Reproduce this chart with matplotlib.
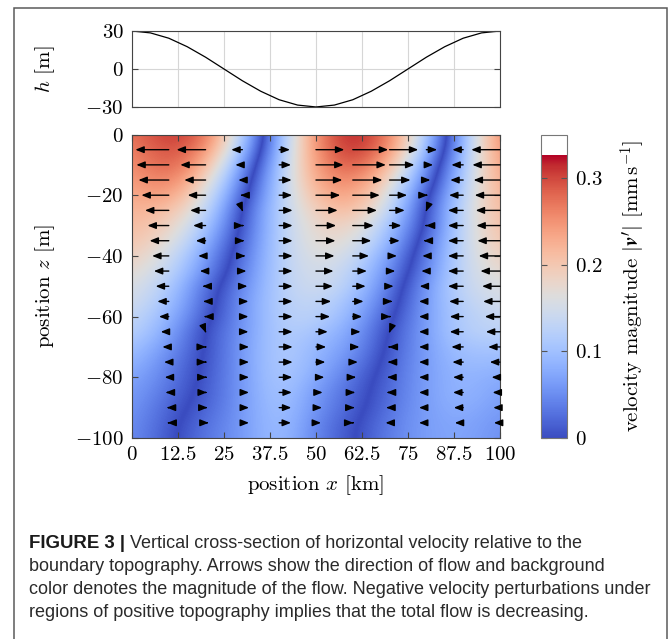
import numpy as np
import matplotlib
matplotlib.use("Agg")
import matplotlib.pyplot as plt
from matplotlib.colors import Normalize, ListedColormap
from matplotlib.cm import ScalarMappable
from matplotlib.patches import Rectangle

plt.rcParams['font.family'] = 'serif'
plt.rcParams['font.serif'] = ['cmr10']
plt.rcParams['mathtext.fontset'] = 'cm'
plt.rcParams['axes.unicode_minus'] = False

# topography h(x) [m]
x_topo = [0, 5, 10, 15, 20, 25, 30, 35, 40, 45, 50,
          55, 60, 65, 70, 75, 80, 85, 90, 95, 100]
h_topo = [30, 28.5, 24.3, 17.6, 9.3, 0, -9.3, -17.6, -24.3, -28.5, -30,
          -28.5, -24.3, -17.6, -9.3, 0, 9.3, 17.6, 24.3, 28.5, 30]

# horizontal velocity perturbation u [mm/s] on the arrow grid
x_grid = [0, 10, 20, 30, 40, 50, 60, 70, 80, 90, 100]
z_grid = [0, -5, -10, -15, -20, -25, -30, -35, -40, -45, -50,
          -55, -60, -65, -70, -75, -80, -85, -90, -95, -100]
u_grid = [
    [-0.270, -0.315, -0.285, -0.125, 0.090, 0.262, 0.330, 0.272, 0.115, -0.090, -0.270],
    [-0.260, -0.303, -0.263, -0.101, 0.098, 0.257, 0.321, 0.260, 0.098, -0.098, -0.260],
    [-0.250, -0.294, -0.229, -0.064, 0.107, 0.250, 0.300, 0.225, 0.061, -0.107, -0.250],
    [-0.239, -0.275, -0.193, -0.037, 0.113, 0.239, 0.269, 0.190, 0.037, -0.117, -0.239],
    [-0.229, -0.248, -0.162, -0.018, 0.117, 0.220, 0.245, 0.159, 0.012, -0.128, -0.229],
    [-0.220, -0.216, -0.140, 0.004, 0.122, 0.197, 0.220, 0.138, -0.004, -0.138, -0.220],
    [-0.214, -0.193, -0.113, 0.009, 0.122, 0.183, 0.190, 0.107, -0.005, -0.138, -0.214],
    [-0.205, -0.174, -0.089, 0.018, 0.122, 0.177, 0.168, 0.092, -0.025, -0.138, -0.205],
    [-0.193, -0.151, -0.067, 0.028, 0.122, 0.168, 0.147, 0.067, -0.037, -0.138, -0.193],
    [-0.177, -0.135, -0.052, 0.037, 0.122, 0.159, 0.128, 0.052, -0.046, -0.138, -0.177],
    [-0.162, -0.119, -0.028, 0.046, 0.122, 0.153, 0.117, 0.037, -0.061, -0.138, -0.162],
    [-0.153, -0.104, -0.021, 0.055, 0.122, 0.138, 0.098, 0.025, -0.067, -0.128, -0.153],
    [-0.138, -0.089, -0.012, 0.055, 0.122, 0.128, 0.085, 0.009, -0.067, -0.122, -0.138],
    [-0.128, -0.073, 0.004, 0.055, 0.122, 0.107, 0.071, -0.004, -0.067, -0.122, -0.128],
    [-0.107, -0.058, 0.003, 0.060, 0.122, 0.092, 0.061, -0.009, -0.067, -0.107, -0.107],
    [-0.092, -0.043, 0.005, 0.060, 0.122, 0.085, 0.046, -0.016, -0.067, -0.098, -0.092],
    [-0.076, -0.037, 0.009, 0.060, 0.119, 0.076, 0.030, -0.021, -0.067, -0.092, -0.076],
    [-0.067, -0.028, 0.012, 0.060, 0.115, 0.061, 0.021, -0.025, -0.067, -0.092, -0.067],
    [-0.061, -0.018, 0.018, 0.060, 0.110, 0.055, 0.016, -0.030, -0.067, -0.085, -0.061],
    [-0.055, -0.012, 0.028, 0.060, 0.107, 0.046, 0.006, -0.037, -0.067, -0.076, -0.055],
    [-0.052, -0.008, 0.033, 0.060, 0.105, 0.042, 0.003, -0.040, -0.067, -0.074, -0.052],
]

# arrows near the zero crossings that also have a visible vertical part
tilt_x = [30, 80, 20, 70]
tilt_z = [-25, -25, -65, -65]
tilt_w = [-0.012, -0.012, -0.012, -0.012]

cbar_ticks = [0, 0.1, 0.2, 0.3]
x_ticks = [0, 12.5, 25, 37.5, 50, 62.5, 75, 87.5, 100]
x_ticklabels = ['0', '12.5', '25', '37.5', '50', '62.5', '75', '87.5', '100']
z_ticks = [0, -20, -40, -60, -80, -100]
h_ticks = [30, 0, -30]

caption_lines = [
    "Vertical cross-section of horizontal velocity relative to the",
    "boundary topography. Arrows show the direction of flow and background",
    "color denotes the magnitude of the flow. Negative velocity perturbations under",
    "regions of positive topography implies that the total flow is decreasing.",
]

VMAX = 0.35       # colorbar top
CMAP_TOP = 0.326  # colormap ends here, white above
ARROW_KM = 30.0   # km of arrow per mm/s
ARROW_M = 30.0


class AbsNorm(Normalize):
    def __call__(self, value, clip=None):
        return super().__call__(np.ma.abs(value), clip)


base = plt.get_cmap('coolwarm')
levels = (np.arange(700) + 0.5) / 700 * VMAX
cols = [base(v / CMAP_TOP) if v < CMAP_TOP else (1, 1, 1, 1) for v in levels]
cmap = ListedColormap(cols)

fig = plt.figure(figsize=(6.72, 6.39), dpi=100)
FS = 15
edge = '#444444'

# ---- topography panel
ax_h = fig.add_axes([0.1964, 0.8326, 0.5476, 0.1189])
ax_h.plot(x_topo, h_topo, color='black', lw=0.9)
ax_h.set_xlim(0, 100)
ax_h.set_ylim(-30, 30)
ax_h.set_xticks(x_ticks)
ax_h.set_yticks(h_ticks)
ax_h.set_yticklabels(['$%d$' % t for t in h_ticks], fontsize=FS)
ax_h.grid(True, color='#d6d6d6', lw=0.8)
ax_h.tick_params(axis='x', length=0, labelbottom=False)
ax_h.tick_params(axis='y', direction='in', length=4, right=True, color=edge, pad=6)
for s in ax_h.spines.values():
    s.set_color(edge)
ax_h.set_ylabel('$h$ [m]', fontsize=FS)
ax_h.yaxis.set_label_coords(-0.205, 0.5)

# ---- velocity section
ax = fig.add_axes([0.1964, 0.3146, 0.5476, 0.4749])
ax.imshow(np.array(u_grid), extent=[-5, 105, -102.5, 2.5], origin='upper',
          cmap=cmap, norm=AbsNorm(0, VMAX), interpolation='bicubic',
          interpolation_stage='data', aspect='auto')

arrow_style = dict(arrowstyle='-|>,head_length=0.5,head_width=0.2',
                   color='black', lw=1.0, shrinkA=0, shrinkB=0,
                   mutation_scale=10)
for i, z in enumerate(z_grid):
    if z == 0 or z == -100:
        continue
    for j, x in enumerate(x_grid):
        if x == 0:
            continue
        u = u_grid[i][j]
        w = 0.0
        for tx, tz, tw in zip(tilt_x, tilt_z, tilt_w):
            if tx == x and tz == z:
                w = tw
        ax.annotate('', xy=(x + u * ARROW_KM, z + w * ARROW_M), xytext=(x, z),
                    xycoords='data', arrowprops=arrow_style,
                    annotation_clip=False)

ax.set_xlim(0, 100)
ax.set_ylim(-100, 0)
ax.set_xticks(x_ticks)
ax.set_xticklabels(['$%s$' % t for t in x_ticklabels], fontsize=FS)
ax.set_yticks(z_ticks)
ax.set_yticklabels(['$%d$' % t for t in z_ticks], fontsize=FS)
ax.tick_params(direction='in', length=4, top=True, right=True, color=edge, pad=6)
for s in ax.spines.values():
    s.set_color(edge)
ax.set_xlabel('position $x$ [km]', fontsize=FS)
ax.xaxis.set_label_coords(0.5, -0.115)
ax.set_ylabel('position $z$ [m]', fontsize=FS)
ax.yaxis.set_label_coords(-0.205, 0.5)

# ---- colorbar
cax = fig.add_axes([0.8046, 0.3146, 0.0387, 0.4749])
sm = ScalarMappable(norm=Normalize(0, VMAX), cmap=cmap)
cb = fig.colorbar(sm, cax=cax, ticks=cbar_ticks)
cb.outline.set_edgecolor('#777777')
cax.set_yticklabels(['$%g$' % t for t in cbar_ticks], fontsize=FS)
cax.tick_params(direction='in', length=4, left=True, right=True, color='#555555', pad=6)
cb.set_label(r'velocity magnitude $|\boldsymbol{v}^{\prime}|$ [mm$\,$s$^{-1}$]', fontsize=FS)
cax.yaxis.set_label_coords(3.0, 0.5)

# ---- frame and caption
fig.add_artist(Rectangle((0.0208, -0.02), 0.9718, 1.0075, transform=fig.transFigure,
                         fill=False, ec='#5a5a5a', lw=1.1))

CAP_FS = 13.0
cap_x = 0.0436
cap_y = [0.1424, 0.1057, 0.0697, 0.0344]
head = fig.text(cap_x, cap_y[0], 'FIGURE 3 |', family='Liberation Sans',
                fontweight='bold', fontsize=13.4, color='#1a1a1a', va='baseline')
fig.canvas.draw()
bb = head.get_window_extent(fig.canvas.get_renderer())
x_after = bb.x1 / fig.bbox.width + 5 / 672
fig.text(x_after, cap_y[0], caption_lines[0], family='Liberation Sans',
         fontsize=CAP_FS, color='#2a2a2a', va='baseline')
for line, y in zip(caption_lines[1:], cap_y[1:]):
    fig.text(cap_x, y, line, family='Liberation Sans', fontsize=CAP_FS,
             color='#2a2a2a', va='baseline')

fig.savefig('out.png', dpi=100)
